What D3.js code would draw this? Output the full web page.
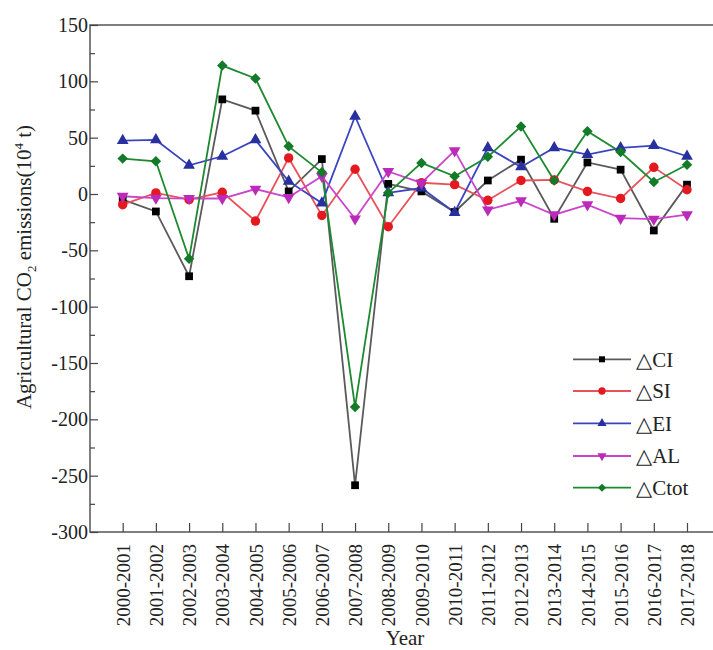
<!DOCTYPE html>
<html>
<head>
<meta charset="utf-8">
<script src="https://cdnjs.cloudflare.com/ajax/libs/d3/7.8.5/d3.min.js"></script>
<style>
  body { margin: 0; background: #fff; }
  text { font-family: "Liberation Serif", "DejaVu Serif", serif; fill: #222; }
</style>
</head>
<body>
<script>
// periods on the x axis
const periods = ["2000-2001","2001-2002","2002-2003","2003-2004","2004-2005","2005-2006",
  "2006-2007","2007-2008","2008-2009","2009-2010","2010-2011","2011-2012","2012-2013",
  "2013-2014","2014-2015","2015-2016","2016-2017","2017-2018"]

// series values (10^4 t)
const dCI   = [-5, -15.5, -73, 84, 74, 2.3, 31, -258.5, 9, 2.3, -16, 12, 30.5, -22, 28, 21.6, -32.4, 8.3]
const dSI   = [-9.5, 1, -5, 1.5, -24, 32, -19, 22, -29, 10, 8.3, -5.6, 12, 12.5, 2.3, -4, 23.7, 3.8]
const dEI   = [47.4, 48, 25.4, 33.5, 48, 11.2, -8, 69, 1, 5.3, -16.4, 41, 24, 41, 35, 41, 43, 33.5]
const dAL   = [-2, -3.6, -4, -4, 4.4, -3, 15.7, -22, 20, 9.8, 38.5, -14, -6, -18.4, -9.5, -21.4, -22.3, -18.4]
const dCtot = [31.4, 29, -57.5, 114, 102.5, 42.3, 19.2, -189, 1, 27.6, 15.7, 33, 60, 12, 55.7, 37.3, 10.7, 26]

const yTicks = [150, 100, 50, 0, -50, -100, -150, -200, -250, -300]

// rot: extra rotation of the marker (diamond = square turned 45deg)
const series = [
  {name: "\u25B3CI",   values: dCI,   line: "#5a5a5a", fill: "#000000", symbol: d3.symbolSquare,   size: 60, rot: 0},
  {name: "\u25B3SI",   values: dSI,   line: "#e8525a", fill: "#e3191f", symbol: d3.symbolCircle,   size: 70, rot: 0},
  {name: "\u25B3EI",   values: dEI,   line: "#3a44c0", fill: "#27309e", symbol: d3.symbolTriangle, size: 60, rot: 0},
  {name: "\u25B3AL",   values: dAL,   line: "#cc44cc", fill: "#bb2ab8", symbol: d3.symbolTriangle, size: 60, rot: 180},
  {name: "\u25B3Ctot", values: dCtot, line: "#1d8a30", fill: "#137a27", symbol: d3.symbolSquare,   size: 55, rot: 45}
]

const svgWidth = 713, svgHeight = 650
const plotLeft = 90, plotTop = 25, plotRight = 713, plotBottom = 532

const svg = d3.select("body").append("svg")
  .attr("width", svgWidth)
  .attr("height", svgHeight)

const x = d3.scalePoint()
  .domain(periods)
  .range([122.7, 687])

const y = d3.scaleLinear()
  .domain([-300, 150])
  .range([plotBottom, plotTop])

// frame (top + left + bottom, right side cut off)
svg.append("path")
  .attr("d", "M" + plotRight + "," + plotTop + "H" + plotLeft + "V" + plotBottom + "H" + plotRight)
  .attr("fill", "none")
  .attr("stroke", "#555")
  .attr("stroke-width", 1.5)

// y axis: major and minor ticks pointing inward
const yAxis = d3.axisLeft(y).tickValues(yTicks).tickSize(-8).tickPadding(10)
  .tickFormat(d => String(d))
svg.append("g")
  .attr("transform", "translate(" + plotLeft + ",0)")
  .call(yAxis)
  .call(g => g.select(".domain").remove())
  .call(g => g.selectAll("line").attr("stroke", "#444").attr("stroke-width", 1.2))
  .call(g => g.selectAll("text").attr("font-size", 20).attr("dx", 8))

svg.append("g")
  .attr("transform", "translate(" + plotLeft + ",0)")
  .call(d3.axisLeft(y).tickValues(d3.range(-275, 150, 50)).tickSize(-5).tickFormat(""))
  .call(g => g.select(".domain").remove())
  .call(g => g.selectAll("line").attr("stroke", "#444").attr("stroke-width", 1.2))

// x axis: ticks pointing up
const xAxis = d3.axisBottom(x).tickSize(-9).tickPadding(0)
svg.append("g")
  .attr("transform", "translate(0," + plotBottom + ")")
  .call(xAxis)
  .call(g => g.select(".domain").remove())
  .call(g => g.selectAll("line").attr("stroke", "#444").attr("stroke-width", 1.2))
  .call(g => g.selectAll("text")
    .attr("font-size", 19)
    .attr("transform", "rotate(-90)")
    .attr("text-anchor", "end")
    .attr("x", -12)
    .attr("y", 0)
    .attr("dy", "0.35em"))

// axis titles
svg.append("text")
  .attr("x", 405).attr("y", 645)
  .attr("text-anchor", "middle")
  .attr("font-size", 21)
  .text("Year")

const yTitle = svg.append("text")
  .attr("transform", "translate(31,267) rotate(-90)")
  .attr("text-anchor", "middle")
  .attr("font-size", 21)
yTitle.append("tspan").text("Agricultural CO")
yTitle.append("tspan").attr("font-size", 13).attr("dy", 5).text("2")
yTitle.append("tspan").attr("dy", -5).text(" emissions(10")
yTitle.append("tspan").attr("font-size", 13).attr("dy", -8).text("4")
yTitle.append("tspan").attr("dy", 8).text(" t)")

// lines and markers
const line = d3.line()
  .x((d, i) => x(periods[i]))
  .y(d => y(d))

series.forEach(s => {
  svg.append("path")
    .datum(s.values)
    .attr("fill", "none")
    .attr("stroke", s.line)
    .attr("stroke-width", 1.8)
    .attr("d", line)
})

series.forEach(s => {
  svg.append("g").selectAll("path")
    .data(s.values)
    .enter().append("path")
    .attr("d", d3.symbol().type(s.symbol).size(s.size))
    .attr("fill", s.fill)
    .attr("transform", (d, i) => "translate(" + x(periods[i]) + "," + y(d) + ") rotate(" + s.rot + ")")
})

// legend
const legendRows = [359.3, 391, 423.3, 456, 487.7]
series.forEach((s, i) => {
  const g = svg.append("g").attr("transform", "translate(0," + legendRows[i] + ")")
  g.append("line")
    .attr("x1", 573).attr("x2", 631)
    .attr("stroke", s.line).attr("stroke-width", 1.8)
  g.append("path")
    .attr("d", d3.symbol().type(s.symbol).size(s.size * 0.6))
    .attr("fill", s.fill)
    .attr("transform", "translate(602,0) rotate(" + s.rot + ")")
  g.append("text")
    .attr("x", 636).attr("y", 0).attr("dy", "0.35em")
    .attr("font-size", 21)
    .text(s.name)
})
</script>
</body>
</html>
